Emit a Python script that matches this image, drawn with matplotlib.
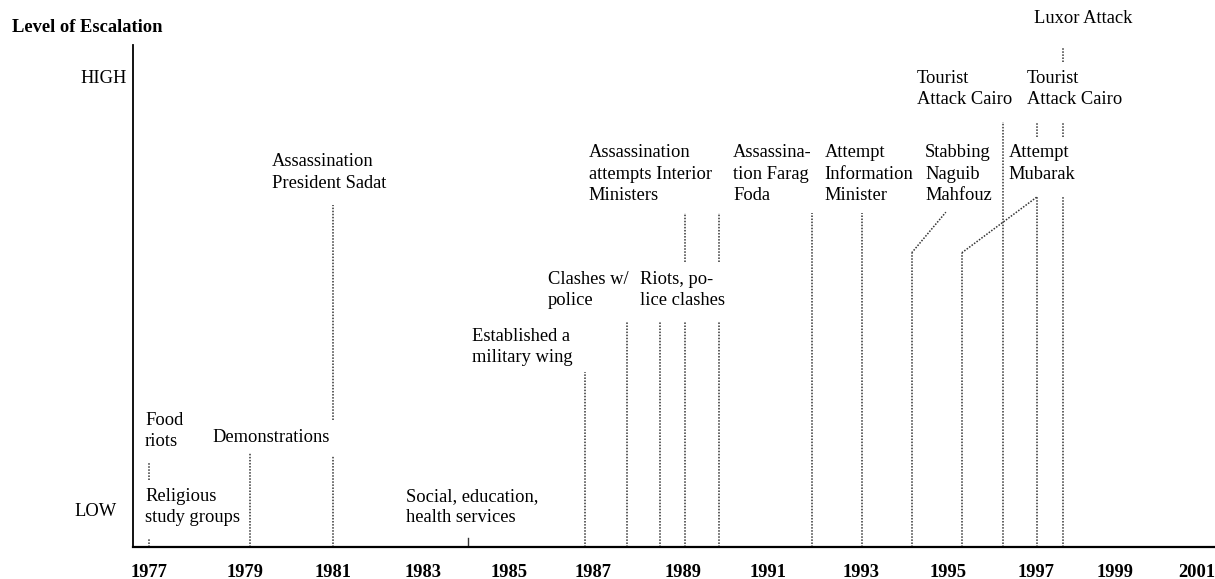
import matplotlib.pyplot as plt

plt.rcParams['font.family'] = ['Liberation Serif', 'DejaVu Serif']

# x axis tick labels (placed where the original typed them)
tick_labels = ['1977', '1979', '1981', '1983', '1985', '1987', '1989',
               '1991', '1993', '1995', '1997', '1999', '2001']
tick_pos = [1977.0, 1979.16, 1981.15, 1983.18, 1985.12, 1987.02, 1989.05,
            1990.96, 1993.06, 1995.02, 1997.0, 1998.79, 2000.64]

# dotted event lines: year, from level, to level
seg_x = [1977.0, 1977.0, 1979.28, 1981.15, 1981.15, 1986.83, 1987.78, 1988.52,
         1989.09, 1989.09, 1989.85, 1989.85, 1991.95, 1993.08, 1994.20, 1995.33,
         1996.26, 1997.02, 1997.02, 1997.61, 1997.61, 1997.61]
seg_y0 = [0, 13.3, 0, 0, 25.3, 0, 0, 0,
          0, 56.8, 0, 56.8, 0, 0, 0, 0,
          0, 0, 81.7, 0, 81.7, 96.6]
seg_y1 = [1.6, 16.7, 18.7, 18.1, 68.1, 34.9, 44.8, 44.8,
          44.8, 66.5, 44.8, 66.5, 66.5, 66.5, 58.6, 58.6,
          84.7, 69.7, 84.7, 69.7, 84.7, 99.6]

# slanted leader lines
diag_x0 = [1994.20, 1995.33]
diag_y0 = [58.6, 58.6]
diag_x1 = [1994.97, 1997.02]
diag_y1 = [66.7, 69.7]

# short solid tick for social services
social_x = 1984.19
social_top = 1.8

labels = ['Religious\nstudy groups', 'Food\nriots', 'Demonstrations',
          'Assassination\nPresident Sadat', 'Social, education,\nhealth services',
          'Established a\nmilitary wing', 'Clashes w/\npolice', 'Riots, po-\nlice clashes',
          'Assassination\nattempts Interior\nMinisters', 'Assassina-\ntion Farag\nFoda',
          'Attempt\nInformation\nMinister', 'Stabbing\nNaguib\nMahfouz',
          'Attempt\nMubarak', 'Tourist\nAttack Cairo', 'Tourist\nAttack Cairo',
          'Luxor Attack']
label_x = [1976.91, 1976.91, 1978.42, 1979.77, 1982.79, 1984.28, 1986.0, 1988.07,
           1986.92, 1990.17, 1992.24, 1994.5, 1996.39, 1994.32, 1996.8, 1996.95]
label_y = [8.0, 23.1, 21.9, 74.6, 8.0, 39.8, 51.2, 51.2,
           74.3, 74.3, 74.3, 74.3, 76.4, 91.3, 91.3, 105.2]

fs = 13.3
fig = plt.figure(figsize=(12.15, 5.79), dpi=100)
ax = fig.add_axes([133 / 1215, 32 / 579, 1082 / 1215, 502 / 579])
ax.set_xlim(1976.64, 2001.04)
ax.set_ylim(0, 100)

dot = dict(color='#333333', lw=1.1, ls=(0, (1, 1)))
for x, a, b in zip(seg_x, seg_y0, seg_y1):
    ax.plot([x, x], [a, b], **dot)
for x0, y0, x1, y1 in zip(diag_x0, diag_y0, diag_x1, diag_y1):
    ax.plot([x0, x1], [y0, y1], **dot)
ax.plot([social_x, social_x], [0, social_top], color='#333333', lw=1.0)

for t, x, y in zip(labels, label_x, label_y):
    ax.text(x, y, t, fontsize=fs, ha='left', va='center', linespacing=1.33,
            clip_on=False)

ax.text(1976.50, 93.4, 'HIGH', fontsize=fs, ha='right', va='center')
ax.text(1976.28, 7.0, 'LOW', fontsize=fs, ha='right', va='center')
fig.text(12 / 1215, 1 - 28 / 579, 'Level of Escalation', fontsize=fs,
         fontweight='bold', ha='left', va='center')

for s in ['top', 'right']:
    ax.spines[s].set_visible(False)
ax.spines['left'].set_linewidth(1.3)
ax.spines['bottom'].set_linewidth(1.6)
ax.set_yticks([])
ax.set_xticks(tick_pos)
ax.set_xticklabels(tick_labels, fontsize=fs, fontweight='bold')
ax.tick_params(axis='x', length=0, pad=12)

fig.savefig('out.png', dpi=100)
